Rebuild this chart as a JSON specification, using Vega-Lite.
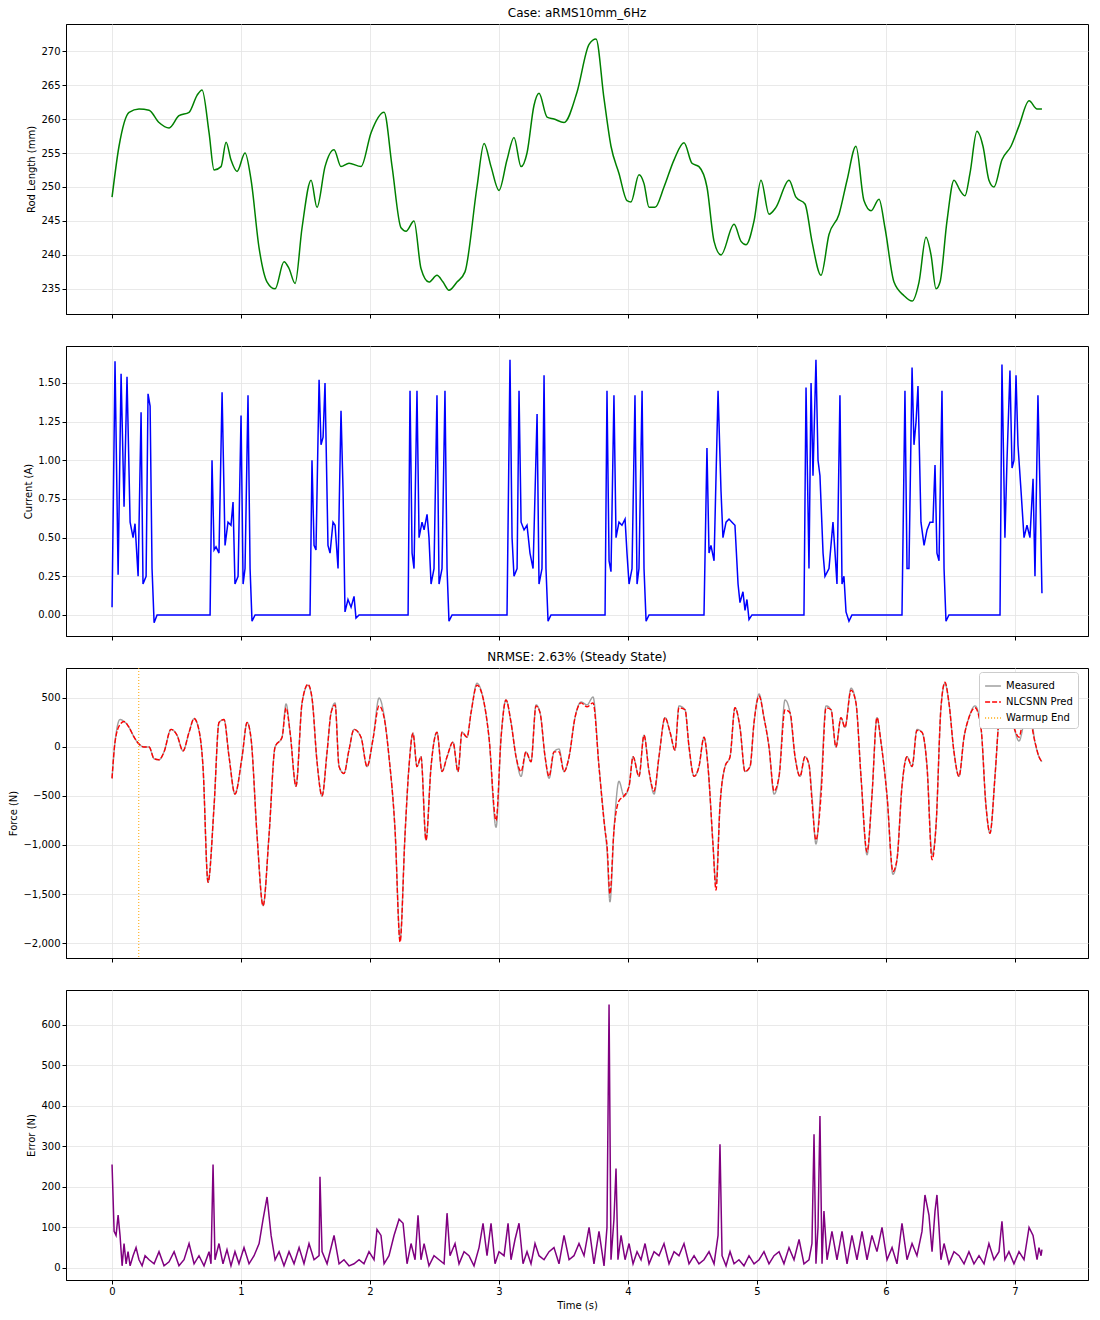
{
"$schema":"https://vega.github.io/schema/vega-lite/v6.json",
"padding":{"left":8,"top":6,"right":8,"bottom":4},
"spacing":9,
"config":{"font":"DejaVu Sans","view":{"stroke":"black","strokeWidth":1},
"axis":{"gridColor":"#e3e3e3","gridWidth":0.8,"domainColor":"black","tickColor":"black","labelColor":"black","labelFontSize":10,"titleFontSize":10,"titleFontWeight":"normal","titleColor":"black","tickSize":4},
"title":{"fontSize":12,"fontWeight":"normal","color":"black","offset":4}},
"vconcat":[
{"title":"Case: aRMS10mm_6Hz","width":1022,"height":290,
"data":{"values":[
{"t":0,"v":248.5},{"t":0.054,"v":256},{"t":0.132,"v":261},{"t":0.209,"v":261.5},{"t":0.287,"v":261.3},{"t":0.364,"v":259.5},{"t":0.442,"v":258.7},{"t":0.519,"v":260.5},{"t":0.597,"v":261},{"t":0.659,"v":263.5},{"t":0.698,"v":264.3},{"t":0.752,"v":258},{"t":0.791,"v":252.5},{"t":0.845,"v":253},{"t":0.884,"v":256.6},{"t":0.922,"v":254},{"t":0.969,"v":252.3},{"t":1.031,"v":255},{"t":1.078,"v":251},{"t":1.14,"v":241},{"t":1.202,"v":236},{"t":1.264,"v":235},{"t":1.333,"v":239},{"t":1.372,"v":238},{"t":1.419,"v":235.8},{"t":1.473,"v":244},{"t":1.543,"v":251},{"t":1.589,"v":247},{"t":1.651,"v":253},{"t":1.721,"v":255.5},{"t":1.775,"v":253},{"t":1.837,"v":253.5},{"t":1.93,"v":253},{"t":2.008,"v":258},{"t":2.109,"v":261},{"t":2.171,"v":253},{"t":2.24,"v":244},{"t":2.279,"v":243.5},{"t":2.341,"v":245},{"t":2.395,"v":238},{"t":2.457,"v":236},{"t":2.519,"v":237},{"t":2.566,"v":236},{"t":2.612,"v":234.8},{"t":2.674,"v":236},{"t":2.736,"v":237.5},{"t":2.829,"v":250},{"t":2.884,"v":256.4},{"t":2.938,"v":253},{"t":3.0,"v":249.5},{"t":3.062,"v":254},{"t":3.116,"v":257.3},{"t":3.171,"v":253},{"t":3.217,"v":255},{"t":3.271,"v":262},{"t":3.31,"v":263.8},{"t":3.372,"v":260.3},{"t":3.426,"v":260},{"t":3.504,"v":259.5},{"t":3.605,"v":264},{"t":3.698,"v":271},{"t":3.752,"v":271.8},{"t":3.814,"v":263},{"t":3.868,"v":256},{"t":3.93,"v":252},{"t":3.992,"v":248},{"t":4.023,"v":247.8},{"t":4.085,"v":251.8},{"t":4.124,"v":250.5},{"t":4.163,"v":247},{"t":4.209,"v":247},{"t":4.279,"v":250},{"t":4.357,"v":254},{"t":4.434,"v":256.5},{"t":4.496,"v":253.5},{"t":4.55,"v":253},{"t":4.612,"v":250},{"t":4.667,"v":242},{"t":4.721,"v":240},{"t":4.822,"v":244.5},{"t":4.876,"v":242},{"t":4.915,"v":241.5},{"t":4.977,"v":245},{"t":5.031,"v":251},{"t":5.093,"v":246},{"t":5.147,"v":247},{"t":5.248,"v":251},{"t":5.302,"v":248.5},{"t":5.372,"v":247.5},{"t":5.426,"v":242},{"t":5.496,"v":237},{"t":5.558,"v":243},{"t":5.636,"v":246},{"t":5.698,"v":251},{"t":5.767,"v":256},{"t":5.829,"v":248},{"t":5.884,"v":246.5},{"t":5.946,"v":248.2},{"t":5.992,"v":244},{"t":6.062,"v":236},{"t":6.14,"v":234},{"t":6.202,"v":233.2},{"t":6.256,"v":236},{"t":6.31,"v":242.6},{"t":6.349,"v":240},{"t":6.388,"v":235},{"t":6.419,"v":236},{"t":6.473,"v":245},{"t":6.527,"v":251},{"t":6.574,"v":249.5},{"t":6.612,"v":248.7},{"t":6.651,"v":252},{"t":6.705,"v":258.2},{"t":6.752,"v":256},{"t":6.798,"v":251},{"t":6.837,"v":250},{"t":6.899,"v":254},{"t":6.969,"v":256},{"t":7.031,"v":259},{"t":7.109,"v":262.7},{"t":7.171,"v":261.5},{"t":7.209,"v":261.5}]},
"mark":{"type":"line","color":"green","strokeWidth":1.5,"interpolate":"monotone"},
"encoding":{"x":{"field":"t","type":"quantitative","scale":{"domain":[-0.357,7.566],"nice":false,"zero":false},"axis":{"labels":false,"title":null,"values":[0,1,2,3,4,5,6,7]}},
"y":{"field":"v","type":"quantitative","title":"Rod Length (mm)","scale":{"domain":[231.3,274],"nice":false,"zero":false},"axis":{"values":[235,240,245,250,255,260,265,270]}}}},
{"title":" ","width":1022,"height":290,
"data":{"values":[
{"t":0,"v":0.05},{"t":0.023,"v":1.64},{"t":0.047,"v":0.26},{"t":0.07,"v":1.56},{"t":0.093,"v":0.7},{"t":0.116,"v":1.54},{"t":0.14,"v":0.6},{"t":0.163,"v":0.5},{"t":0.178,"v":0.59},{"t":0.202,"v":0.25},{"t":0.225,"v":1.31},{"t":0.24,"v":0.2},{"t":0.264,"v":0.25},{"t":0.279,"v":1.43},{"t":0.295,"v":1.35},{"t":0.31,"v":0.3},{"t":0.326,"v":-0.05},{"t":0.349,"v":0},{"t":0.752,"v":0},
{"t":0.76,"v":0},{"t":0.775,"v":1.0},{"t":0.791,"v":0.42},{"t":0.806,"v":0.44},{"t":0.829,"v":0.4},{"t":0.853,"v":1.44},{"t":0.876,"v":0.45},{"t":0.899,"v":0.6},{"t":0.922,"v":0.58},{"t":0.938,"v":0.73},{"t":0.953,"v":0.2},{"t":0.977,"v":0.25},{"t":1.0,"v":1.29},{"t":1.016,"v":0.2},{"t":1.031,"v":0.3},{"t":1.054,"v":1.42},{"t":1.07,"v":0.3},{"t":1.085,"v":-0.04},{"t":1.109,"v":0},{"t":1.535,"v":0},
{"t":1.55,"v":1.0},{"t":1.566,"v":0.45},{"t":1.581,"v":0.42},{"t":1.605,"v":1.52},{"t":1.62,"v":1.1},{"t":1.636,"v":1.15},{"t":1.651,"v":1.5},{"t":1.674,"v":0.45},{"t":1.69,"v":0.4},{"t":1.713,"v":0.6},{"t":1.729,"v":0.58},{"t":1.752,"v":0.3},{"t":1.775,"v":1.32},{"t":1.791,"v":0.8},{"t":1.806,"v":0.02},{"t":1.829,"v":0.1},{"t":1.853,"v":0.05},{"t":1.876,"v":0.12},{"t":1.891,"v":-0.02},{"t":1.915,"v":0},{"t":2.295,"v":0},
{"t":2.31,"v":1.45},{"t":2.326,"v":0.4},{"t":2.341,"v":0.3},{"t":2.364,"v":1.45},{"t":2.38,"v":0.5},{"t":2.403,"v":0.6},{"t":2.419,"v":0.55},{"t":2.442,"v":0.65},{"t":2.457,"v":0.5},{"t":2.473,"v":0.2},{"t":2.496,"v":0.3},{"t":2.519,"v":1.42},{"t":2.535,"v":0.2},{"t":2.558,"v":0.3},{"t":2.581,"v":1.45},{"t":2.597,"v":0.3},{"t":2.612,"v":-0.04},{"t":2.636,"v":0},{"t":3.062,"v":0},
{"t":3.085,"v":1.65},{"t":3.101,"v":0.5},{"t":3.116,"v":0.25},{"t":3.14,"v":0.3},{"t":3.155,"v":1.45},{"t":3.171,"v":0.6},{"t":3.194,"v":0.55},{"t":3.217,"v":0.58},{"t":3.24,"v":0.4},{"t":3.264,"v":0.3},{"t":3.295,"v":1.3},{"t":3.31,"v":0.2},{"t":3.333,"v":0.3},{"t":3.349,"v":1.55},{"t":3.364,"v":0.3},{"t":3.38,"v":-0.04},{"t":3.403,"v":0},{"t":3.822,"v":0},
{"t":3.837,"v":1.45},{"t":3.853,"v":0.35},{"t":3.868,"v":0.28},{"t":3.891,"v":1.42},{"t":3.907,"v":0.5},{"t":3.93,"v":0.6},{"t":3.953,"v":0.58},{"t":3.977,"v":0.62},{"t":3.992,"v":0.4},{"t":4.008,"v":0.2},{"t":4.031,"v":0.3},{"t":4.054,"v":1.42},{"t":4.07,"v":0.2},{"t":4.085,"v":0.3},{"t":4.109,"v":1.45},{"t":4.124,"v":0.3},{"t":4.14,"v":-0.04},{"t":4.163,"v":0},{"t":4.589,"v":0},
{"t":4.612,"v":1.08},{"t":4.628,"v":0.4},{"t":4.643,"v":0.45},{"t":4.667,"v":0.35},{"t":4.698,"v":1.45},{"t":4.721,"v":0.8},{"t":4.736,"v":0.5},{"t":4.76,"v":0.6},{"t":4.783,"v":0.62},{"t":4.806,"v":0.6},{"t":4.829,"v":0.58},{"t":4.853,"v":0.2},{"t":4.868,"v":0.08},{"t":4.891,"v":0.15},{"t":4.907,"v":0.03},{"t":4.922,"v":0.1},{"t":4.938,"v":-0.03},{"t":4.961,"v":0},{"t":5.364,"v":0},
{"t":5.38,"v":1.47},{"t":5.403,"v":0.3},{"t":5.419,"v":1.5},{"t":5.434,"v":0.9},{"t":5.457,"v":1.65},{"t":5.473,"v":1.0},{"t":5.488,"v":0.9},{"t":5.512,"v":0.4},{"t":5.527,"v":0.25},{"t":5.558,"v":0.3},{"t":5.589,"v":0.6},{"t":5.605,"v":0.4},{"t":5.62,"v":0.2},{"t":5.643,"v":1.42},{"t":5.659,"v":0.2},{"t":5.674,"v":0.25},{"t":5.69,"v":0.02},{"t":5.713,"v":-0.04},{"t":5.736,"v":0},{"t":6.124,"v":0},
{"t":6.147,"v":1.45},{"t":6.163,"v":0.3},{"t":6.178,"v":0.3},{"t":6.202,"v":1.6},{"t":6.217,"v":1.1},{"t":6.233,"v":1.25},{"t":6.248,"v":1.48},{"t":6.271,"v":0.6},{"t":6.295,"v":0.45},{"t":6.318,"v":0.55},{"t":6.341,"v":0.6},{"t":6.364,"v":0.6},{"t":6.38,"v":0.97},{"t":6.395,"v":0.4},{"t":6.411,"v":0.35},{"t":6.434,"v":1.45},{"t":6.45,"v":0.3},{"t":6.465,"v":-0.04},{"t":6.488,"v":0},{"t":6.884,"v":0},
{"t":6.899,"v":1.62},{"t":6.922,"v":0.5},{"t":6.938,"v":1.0},{"t":6.961,"v":1.58},{"t":6.977,"v":0.95},{"t":6.992,"v":1.0},{"t":7.008,"v":1.55},{"t":7.023,"v":1.1},{"t":7.047,"v":0.8},{"t":7.07,"v":0.5},{"t":7.093,"v":0.58},{"t":7.116,"v":0.5},{"t":7.14,"v":0.88},{"t":7.155,"v":0.25},{"t":7.178,"v":1.42},{"t":7.194,"v":0.8},{"t":7.209,"v":0.14}]},
"mark":{"type":"line","color":"blue","strokeWidth":1.5},
"encoding":{"x":{"field":"t","type":"quantitative","scale":{"domain":[-0.357,7.566],"nice":false,"zero":false},"axis":{"labels":false,"title":null,"values":[0,1,2,3,4,5,6,7]}},
"y":{"field":"v","type":"quantitative","title":"Current (A)","scale":{"domain":[-0.136,1.739],"nice":false,"zero":false},"axis":{"values":[0,0.25,0.5,0.75,1,1.25,1.5],"format":".2f"}}}},
{"title":"NRMSE: 2.63% (Steady State)","width":1022,"height":290,
"layer":[
{"data":{"values":[
{"t":0,"Measured":-320,"NLCSNN Pred":-320},{"t":0.023,"Measured":50,"NLCSNN Pred":50},{"t":0.062,"Measured":280,"NLCSNN Pred":230},{"t":0.093,"Measured":260,"NLCSNN Pred":260},{"t":0.132,"Measured":200,"NLCSNN Pred":200},{"t":0.171,"Measured":100,"NLCSNN Pred":100},{"t":0.209,"Measured":30,"NLCSNN Pred":30},{"t":0.248,"Measured":0,"NLCSNN Pred":0},{"t":0.287,"Measured":0,"NLCSNN Pred":0},{"t":0.326,"Measured":-120,"NLCSNN Pred":-120},{"t":0.364,"Measured":-130,"NLCSNN Pred":-130},{"t":0.403,"Measured":-50,"NLCSNN Pred":-50},{"t":0.457,"Measured":180,"NLCSNN Pred":180},{"t":0.504,"Measured":120,"NLCSNN Pred":120},{"t":0.55,"Measured":-40,"NLCSNN Pred":-40},{"t":0.597,"Measured":150,"NLCSNN Pred":150},{"t":0.636,"Measured":290,"NLCSNN Pred":290},{"t":0.674,"Measured":170,"NLCSNN Pred":170},{"t":0.705,"Measured":-200,"NLCSNN Pred":-200},{"t":0.744,"Measured":-1380,"NLCSNN Pred":-1380},{"t":0.791,"Measured":-600,"NLCSNN Pred":-600},{"t":0.829,"Measured":250,"NLCSNN Pred":250},{"t":0.868,"Measured":280,"NLCSNN Pred":280},{"t":0.907,"Measured":-100,"NLCSNN Pred":-100},{"t":0.953,"Measured":-480,"NLCSNN Pred":-480},{"t":1.008,"Measured":-100,"NLCSNN Pred":-100},{"t":1.047,"Measured":250,"NLCSNN Pred":250},{"t":1.078,"Measured":80,"NLCSNN Pred":80},{"t":1.124,"Measured":-900,"NLCSNN Pred":-900},{"t":1.171,"Measured":-1620,"NLCSNN Pred":-1620},{"t":1.217,"Measured":-900,"NLCSNN Pred":-900},{"t":1.264,"Measured":0,"NLCSNN Pred":0},{"t":1.318,"Measured":100,"NLCSNN Pred":100},{"t":1.349,"Measured":440,"NLCSNN Pred":400},{"t":1.38,"Measured":150,"NLCSNN Pred":150},{"t":1.426,"Measured":-400,"NLCSNN Pred":-400},{"t":1.473,"Measured":450,"NLCSNN Pred":450},{"t":1.519,"Measured":630,"NLCSNN Pred":640},{"t":1.55,"Measured":500,"NLCSNN Pred":500},{"t":1.589,"Measured":-150,"NLCSNN Pred":-150},{"t":1.628,"Measured":-500,"NLCSNN Pred":-500},{"t":1.667,"Measured":-50,"NLCSNN Pred":-50},{"t":1.698,"Measured":350,"NLCSNN Pred":350},{"t":1.729,"Measured":450,"NLCSNN Pred":430},{"t":1.76,"Measured":-200,"NLCSNN Pred":-200},{"t":1.798,"Measured":-270,"NLCSNN Pred":-270},{"t":1.837,"Measured":-30,"NLCSNN Pred":-30},{"t":1.876,"Measured":180,"NLCSNN Pred":180},{"t":1.93,"Measured":100,"NLCSNN Pred":100},{"t":1.977,"Measured":-200,"NLCSNN Pred":-200},{"t":2.023,"Measured":80,"NLCSNN Pred":80},{"t":2.07,"Measured":500,"NLCSNN Pred":420},{"t":2.109,"Measured":320,"NLCSNN Pred":300},{"t":2.147,"Measured":-100,"NLCSNN Pred":-100},{"t":2.194,"Measured":-850,"NLCSNN Pred":-850},{"t":2.233,"Measured":-1960,"NLCSNN Pred":-1990},{"t":2.271,"Measured":-900,"NLCSNN Pred":-900},{"t":2.302,"Measured":-200,"NLCSNN Pred":-200},{"t":2.333,"Measured":140,"NLCSNN Pred":140},{"t":2.364,"Measured":-200,"NLCSNN Pred":-200},{"t":2.395,"Measured":-100,"NLCSNN Pred":-100},{"t":2.434,"Measured":-950,"NLCSNN Pred":-950},{"t":2.473,"Measured":-200,"NLCSNN Pred":-200},{"t":2.519,"Measured":150,"NLCSNN Pred":150},{"t":2.558,"Measured":-250,"NLCSNN Pred":-250},{"t":2.597,"Measured":-100,"NLCSNN Pred":-100},{"t":2.643,"Measured":50,"NLCSNN Pred":50},{"t":2.682,"Measured":-250,"NLCSNN Pred":-250},{"t":2.713,"Measured":150,"NLCSNN Pred":150},{"t":2.752,"Measured":100,"NLCSNN Pred":100},{"t":2.783,"Measured":350,"NLCSNN Pred":350},{"t":2.829,"Measured":650,"NLCSNN Pred":630},{"t":2.876,"Measured":500,"NLCSNN Pred":500},{"t":2.922,"Measured":100,"NLCSNN Pred":100},{"t":2.977,"Measured":-820,"NLCSNN Pred":-750},{"t":3.016,"Measured":100,"NLCSNN Pred":100},{"t":3.054,"Measured":480,"NLCSNN Pred":480},{"t":3.093,"Measured":250,"NLCSNN Pred":250},{"t":3.132,"Measured":-100,"NLCSNN Pred":-100},{"t":3.171,"Measured":-300,"NLCSNN Pred":-250},{"t":3.209,"Measured":-50,"NLCSNN Pred":-50},{"t":3.248,"Measured":-150,"NLCSNN Pred":-150},{"t":3.287,"Measured":430,"NLCSNN Pred":420},{"t":3.318,"Measured":350,"NLCSNN Pred":350},{"t":3.357,"Measured":-100,"NLCSNN Pred":-100},{"t":3.388,"Measured":-320,"NLCSNN Pred":-300},{"t":3.426,"Measured":-50,"NLCSNN Pred":-50},{"t":3.465,"Measured":-20,"NLCSNN Pred":-50},{"t":3.504,"Measured":-250,"NLCSNN Pred":-250},{"t":3.543,"Measured":-100,"NLCSNN Pred":-100},{"t":3.589,"Measured":300,"NLCSNN Pred":300},{"t":3.636,"Measured":460,"NLCSNN Pred":450},{"t":3.682,"Measured":430,"NLCSNN Pred":410},{"t":3.729,"Measured":510,"NLCSNN Pred":450},{"t":3.775,"Measured":-200,"NLCSNN Pred":-200},{"t":3.822,"Measured":-850,"NLCSNN Pred":-850},{"t":3.837,"Measured":-1050,"NLCSNN Pred":-1000},{"t":3.86,"Measured":-1580,"NLCSNN Pred":-1500},{"t":3.891,"Measured":-850,"NLCSNN Pred":-850},{"t":3.93,"Measured":-350,"NLCSNN Pred":-550},{"t":3.969,"Measured":-500,"NLCSNN Pred":-500},{"t":4.008,"Measured":-400,"NLCSNN Pred":-400},{"t":4.039,"Measured":-100,"NLCSNN Pred":-100},{"t":4.085,"Measured":-300,"NLCSNN Pred":-300},{"t":4.124,"Measured":120,"NLCSNN Pred":120},{"t":4.163,"Measured":-250,"NLCSNN Pred":-250},{"t":4.202,"Measured":-480,"NLCSNN Pred":-450},{"t":4.24,"Measured":-100,"NLCSNN Pred":-100},{"t":4.287,"Measured":300,"NLCSNN Pred":300},{"t":4.326,"Measured":150,"NLCSNN Pred":150},{"t":4.364,"Measured":-30,"NLCSNN Pred":-30},{"t":4.395,"Measured":420,"NLCSNN Pred":400},{"t":4.442,"Measured":380,"NLCSNN Pred":380},{"t":4.473,"Measured":0,"NLCSNN Pred":0},{"t":4.512,"Measured":-300,"NLCSNN Pred":-300},{"t":4.55,"Measured":-200,"NLCSNN Pred":-200},{"t":4.589,"Measured":100,"NLCSNN Pred":100},{"t":4.62,"Measured":-200,"NLCSNN Pred":-200},{"t":4.659,"Measured":-1000,"NLCSNN Pred":-1000},{"t":4.682,"Measured":-1400,"NLCSNN Pred":-1460},{"t":4.713,"Measured":-600,"NLCSNN Pred":-600},{"t":4.752,"Measured":-200,"NLCSNN Pred":-200},{"t":4.791,"Measured":-100,"NLCSNN Pred":-100},{"t":4.829,"Measured":400,"NLCSNN Pred":400},{"t":4.868,"Measured":200,"NLCSNN Pred":200},{"t":4.907,"Measured":-250,"NLCSNN Pred":-250},{"t":4.946,"Measured":-200,"NLCSNN Pred":-200},{"t":4.977,"Measured":250,"NLCSNN Pred":250},{"t":5.016,"Measured":540,"NLCSNN Pred":520},{"t":5.054,"Measured":300,"NLCSNN Pred":300},{"t":5.093,"Measured":0,"NLCSNN Pred":0},{"t":5.132,"Measured":-480,"NLCSNN Pred":-450},{"t":5.171,"Measured":-300,"NLCSNN Pred":-300},{"t":5.217,"Measured":480,"NLCSNN Pred":380},{"t":5.256,"Measured":350,"NLCSNN Pred":350},{"t":5.295,"Measured":-100,"NLCSNN Pred":-100},{"t":5.333,"Measured":-300,"NLCSNN Pred":-300},{"t":5.372,"Measured":-100,"NLCSNN Pred":-100},{"t":5.403,"Measured":-180,"NLCSNN Pred":-180},{"t":5.426,"Measured":-500,"NLCSNN Pred":-550},{"t":5.457,"Measured":-990,"NLCSNN Pred":-950},{"t":5.496,"Measured":-400,"NLCSNN Pred":-500},{"t":5.535,"Measured":420,"NLCSNN Pred":400},{"t":5.574,"Measured":380,"NLCSNN Pred":380},{"t":5.612,"Measured":0,"NLCSNN Pred":0},{"t":5.651,"Measured":300,"NLCSNN Pred":300},{"t":5.682,"Measured":200,"NLCSNN Pred":200},{"t":5.729,"Measured":600,"NLCSNN Pred":580},{"t":5.767,"Measured":450,"NLCSNN Pred":450},{"t":5.806,"Measured":-300,"NLCSNN Pred":-300},{"t":5.853,"Measured":-1100,"NLCSNN Pred":-1070},{"t":5.891,"Measured":-500,"NLCSNN Pred":-500},{"t":5.93,"Measured":300,"NLCSNN Pred":300},{"t":5.961,"Measured":50,"NLCSNN Pred":50},{"t":6.008,"Measured":-500,"NLCSNN Pred":-500},{"t":6.054,"Measured":-1300,"NLCSNN Pred":-1270},{"t":6.085,"Measured":-1150,"NLCSNN Pred":-1150},{"t":6.124,"Measured":-400,"NLCSNN Pred":-400},{"t":6.163,"Measured":-100,"NLCSNN Pred":-100},{"t":6.202,"Measured":-200,"NLCSNN Pred":-200},{"t":6.24,"Measured":180,"NLCSNN Pred":170},{"t":6.279,"Measured":150,"NLCSNN Pred":150},{"t":6.318,"Measured":-200,"NLCSNN Pred":-200},{"t":6.357,"Measured":-1100,"NLCSNN Pred":-1150},{"t":6.388,"Measured":-800,"NLCSNN Pred":-800},{"t":6.426,"Measured":400,"NLCSNN Pred":400},{"t":6.457,"Measured":650,"NLCSNN Pred":660},{"t":6.488,"Measured":450,"NLCSNN Pred":450},{"t":6.527,"Measured":-50,"NLCSNN Pred":-50},{"t":6.566,"Measured":-300,"NLCSNN Pred":-300},{"t":6.605,"Measured":100,"NLCSNN Pred":100},{"t":6.643,"Measured":300,"NLCSNN Pred":300},{"t":6.69,"Measured":420,"NLCSNN Pred":400},{"t":6.736,"Measured":200,"NLCSNN Pred":200},{"t":6.775,"Measured":-600,"NLCSNN Pred":-600},{"t":6.806,"Measured":-880,"NLCSNN Pred":-880},{"t":6.845,"Measured":-300,"NLCSNN Pred":-300},{"t":6.876,"Measured":300,"NLCSNN Pred":300},{"t":6.915,"Measured":640,"NLCSNN Pred":640},{"t":6.953,"Measured":400,"NLCSNN Pred":400},{"t":6.992,"Measured":200,"NLCSNN Pred":200},{"t":7.031,"Measured":60,"NLCSNN Pred":100},{"t":7.07,"Measured":250,"NLCSNN Pred":300},{"t":7.109,"Measured":430,"NLCSNN Pred":300},{"t":7.155,"Measured":50,"NLCSNN Pred":50},{"t":7.186,"Measured":-100,"NLCSNN Pred":-100},{"t":7.209,"Measured":-150,"NLCSNN Pred":-150}]},
"transform":[{"fold":["Measured","NLCSNN Pred"],"as":["s","v"]}],
"mark":{"type":"line","strokeWidth":1.4,"interpolate":"monotone"},
"encoding":{"x":{"field":"t","type":"quantitative","scale":{"domain":[-0.357,7.566],"nice":false,"zero":false},"axis":{"labels":false,"title":null,"values":[0,1,2,3,4,5,6,7]}},
"y":{"field":"v","type":"quantitative","title":"Force (N)","scale":{"domain":[-2153,806],"nice":false,"zero":false},"axis":{"values":[-2000,-1500,-1000,-500,0,500]}},
"color":{"field":"s","type":"nominal","scale":{"domain":["Measured","NLCSNN Pred","Warmup End"],"range":["#a0a0a0","#ff0000","#ffa500"]},"legend":{"title":null,"orient":"none","legendX":913,"legendY":648,"symbolType":"stroke","symbolSize":250,"labelFontSize":10,"strokeColor":"#cccccc","fillColor":"white","padding":5,"cornerRadius":3}},
"strokeDash":{"field":"s","type":"nominal","scale":{"domain":["Measured","NLCSNN Pred","Warmup End"],"range":[[1,0],[5,2],[1,2]]},"legend":{"title":null,"orient":"none","legendX":913,"legendY":648}},
"order":{"field":"s","sort":"ascending"}}},
{"data":{"values":[{"t":0.207,"s":"Warmup End"}]},
"mark":{"type":"rule","strokeWidth":1},
"encoding":{"x":{"field":"t","type":"quantitative"},
"color":{"field":"s","type":"nominal"},"strokeDash":{"field":"s","type":"nominal"}}}
]},
{"title":" ","width":1022,"height":290,
"data":{"values":[
{"t":0,"v":255},{"t":0.016,"v":90},{"t":0.031,"v":80},{"t":0.047,"v":130},{"t":0.062,"v":80},{"t":0.078,"v":5},{"t":0.093,"v":60},{"t":0.109,"v":10},{"t":0.124,"v":40},{"t":0.14,"v":5},{"t":0.163,"v":30},{"t":0.186,"v":50},{"t":0.209,"v":20},{"t":0.233,"v":5},{"t":0.256,"v":30},{"t":0.287,"v":20},{"t":0.326,"v":10},{"t":0.364,"v":40},{"t":0.403,"v":5},{"t":0.442,"v":15},{"t":0.481,"v":40},{"t":0.519,"v":5},{"t":0.558,"v":20},{"t":0.597,"v":60},{"t":0.636,"v":10},{"t":0.674,"v":30},{"t":0.713,"v":5},{"t":0.752,"v":40},{"t":0.767,"v":10},{"t":0.783,"v":255},{"t":0.798,"v":20},{"t":0.829,"v":60},{"t":0.86,"v":10},{"t":0.891,"v":45},{"t":0.922,"v":5},{"t":0.953,"v":40},{"t":0.984,"v":10},{"t":1.023,"v":50},{"t":1.062,"v":10},{"t":1.101,"v":30},{"t":1.14,"v":60},{"t":1.171,"v":120},{"t":1.202,"v":175},{"t":1.233,"v":80},{"t":1.264,"v":20},{"t":1.295,"v":40},{"t":1.333,"v":5},{"t":1.372,"v":40},{"t":1.411,"v":10},{"t":1.45,"v":50},{"t":1.488,"v":10},{"t":1.527,"v":60},{"t":1.566,"v":20},{"t":1.605,"v":30},{"t":1.612,"v":225},{"t":1.628,"v":40},{"t":1.667,"v":10},{"t":1.721,"v":80},{"t":1.76,"v":10},{"t":1.798,"v":20},{"t":1.837,"v":5},{"t":1.876,"v":10},{"t":1.915,"v":20},{"t":1.953,"v":10},{"t":1.992,"v":40},{"t":2.031,"v":20},{"t":2.054,"v":95},{"t":2.085,"v":80},{"t":2.109,"v":10},{"t":2.147,"v":30},{"t":2.186,"v":80},{"t":2.225,"v":120},{"t":2.256,"v":110},{"t":2.287,"v":10},{"t":2.318,"v":60},{"t":2.349,"v":20},{"t":2.372,"v":130},{"t":2.395,"v":20},{"t":2.419,"v":60},{"t":2.457,"v":5},{"t":2.496,"v":30},{"t":2.535,"v":20},{"t":2.574,"v":10},{"t":2.597,"v":135},{"t":2.62,"v":30},{"t":2.659,"v":60},{"t":2.69,"v":10},{"t":2.729,"v":40},{"t":2.767,"v":30},{"t":2.806,"v":5},{"t":2.845,"v":50},{"t":2.876,"v":110},{"t":2.907,"v":30},{"t":2.938,"v":110},{"t":2.969,"v":10},{"t":3.0,"v":40},{"t":3.039,"v":30},{"t":3.07,"v":110},{"t":3.093,"v":20},{"t":3.124,"v":70},{"t":3.155,"v":110},{"t":3.186,"v":10},{"t":3.217,"v":40},{"t":3.248,"v":10},{"t":3.279,"v":60},{"t":3.31,"v":30},{"t":3.349,"v":20},{"t":3.388,"v":40},{"t":3.426,"v":50},{"t":3.465,"v":10},{"t":3.504,"v":80},{"t":3.543,"v":20},{"t":3.581,"v":30},{"t":3.62,"v":60},{"t":3.659,"v":30},{"t":3.698,"v":100},{"t":3.736,"v":10},{"t":3.775,"v":90},{"t":3.814,"v":5},{"t":3.837,"v":100},{"t":3.853,"v":650},{"t":3.868,"v":20},{"t":3.891,"v":120},{"t":3.907,"v":245},{"t":3.922,"v":20},{"t":3.946,"v":80},{"t":3.977,"v":20},{"t":4.008,"v":60},{"t":4.039,"v":10},{"t":4.07,"v":40},{"t":4.101,"v":20},{"t":4.132,"v":60},{"t":4.163,"v":10},{"t":4.202,"v":40},{"t":4.24,"v":30},{"t":4.279,"v":60},{"t":4.318,"v":10},{"t":4.357,"v":40},{"t":4.395,"v":30},{"t":4.434,"v":60},{"t":4.473,"v":10},{"t":4.512,"v":30},{"t":4.55,"v":10},{"t":4.589,"v":20},{"t":4.628,"v":40},{"t":4.667,"v":10},{"t":4.698,"v":80},{"t":4.713,"v":305},{"t":4.729,"v":30},{"t":4.76,"v":5},{"t":4.791,"v":40},{"t":4.822,"v":10},{"t":4.86,"v":20},{"t":4.899,"v":5},{"t":4.938,"v":30},{"t":4.977,"v":10},{"t":5.016,"v":20},{"t":5.054,"v":40},{"t":5.093,"v":10},{"t":5.132,"v":30},{"t":5.171,"v":40},{"t":5.209,"v":10},{"t":5.248,"v":50},{"t":5.287,"v":20},{"t":5.326,"v":70},{"t":5.364,"v":10},{"t":5.403,"v":20},{"t":5.426,"v":60},{"t":5.442,"v":330},{"t":5.457,"v":10},{"t":5.473,"v":100},{"t":5.488,"v":375},{"t":5.504,"v":10},{"t":5.519,"v":140},{"t":5.543,"v":20},{"t":5.581,"v":90},{"t":5.62,"v":20},{"t":5.659,"v":90},{"t":5.698,"v":10},{"t":5.736,"v":80},{"t":5.775,"v":20},{"t":5.814,"v":90},{"t":5.853,"v":20},{"t":5.891,"v":80},{"t":5.93,"v":40},{"t":5.969,"v":100},{"t":6.008,"v":20},{"t":6.047,"v":50},{"t":6.085,"v":10},{"t":6.124,"v":110},{"t":6.163,"v":20},{"t":6.202,"v":60},{"t":6.24,"v":30},{"t":6.279,"v":90},{"t":6.302,"v":180},{"t":6.333,"v":130},{"t":6.357,"v":40},{"t":6.38,"v":140},{"t":6.395,"v":180},{"t":6.411,"v":100},{"t":6.426,"v":20},{"t":6.45,"v":60},{"t":6.488,"v":10},{"t":6.527,"v":40},{"t":6.566,"v":30},{"t":6.605,"v":10},{"t":6.643,"v":40},{"t":6.682,"v":10},{"t":6.721,"v":30},{"t":6.76,"v":10},{"t":6.798,"v":60},{"t":6.837,"v":20},{"t":6.876,"v":40},{"t":6.899,"v":115},{"t":6.922,"v":20},{"t":6.953,"v":40},{"t":6.992,"v":10},{"t":7.031,"v":40},{"t":7.07,"v":20},{"t":7.109,"v":100},{"t":7.14,"v":80},{"t":7.171,"v":20},{"t":7.186,"v":50},{"t":7.202,"v":30},{"t":7.209,"v":45}]},
"mark":{"type":"line","color":"purple","strokeWidth":1.5},
"encoding":{"x":{"field":"t","type":"quantitative","title":"Time (s)","scale":{"domain":[-0.357,7.566],"nice":false,"zero":false},"axis":{"values":[0,1,2,3,4,5,6,7]}},
"y":{"field":"v","type":"quantitative","title":"Error (N)","scale":{"domain":[-30,686],"nice":false,"zero":false},"axis":{"values":[0,100,200,300,400,500,600]}}}}
]}
